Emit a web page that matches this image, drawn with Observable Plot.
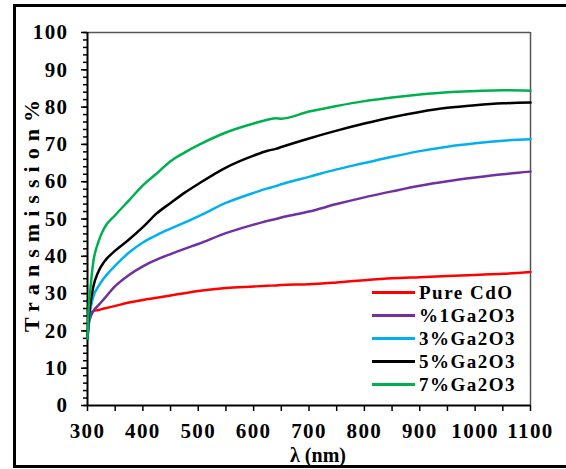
<!DOCTYPE html>
<html>
<head>
<meta charset="utf-8">
<script src="https://cdn.jsdelivr.net/npm/d3@7"></script>
<script src="https://cdn.jsdelivr.net/npm/@observablehq/plot@0.6"></script>
<style>
  html, body { margin: 0; padding: 0; background: #fff; overflow: hidden; }
  #wrap { position: relative; width: 566px; height: 469px; }
  #border { position: absolute; left: 13px; top: 4px; width: 600px; height: 458px; border: 3px solid #000; pointer-events: none; }
  #legend { position: absolute; left: 372px; top: 281px; font-family: "Liberation Serif", serif; font-weight: bold; font-size: 19px; letter-spacing: 1.5px; color: #000; }
  .row { display: flex; align-items: center; height: 23px; white-space: nowrap; }
  .sw { width: 43px; height: 3px; margin-right: 4px; }
</style>
</head>
<body>
<div id="wrap">
  <div id="chart"></div>
  <div id="legend"></div>
  <div id="border"></div>
</div>
<script>
// Optical transmission spectra of CdO films doped with Ga2O3
const wavelength = [300, 302, 305, 310, 320, 330, 350, 375, 400, 425, 450, 475, 500, 550, 600, 625, 640, 650, 700, 750, 800, 850, 900, 950, 1000, 1050, 1100];

const pureCdO  = [18, 22, 24.5, 25.3, 25.6, 26, 26.7, 27.6, 28.3, 28.9, 29.5, 30.1, 30.7, 31.5, 31.9, 32.1, 32.2, 32.3, 32.5, 33, 33.6, 34.1, 34.4, 34.7, 35, 35.3, 35.8];
const ga1      = [18, 21.5, 23.5, 25.2, 26.9, 28.6, 32, 35, 37.3, 39.1, 40.6, 42, 43.3, 46.2, 48.5, 49.5, 50, 50.4, 52, 54, 55.8, 57.4, 58.9, 60.1, 61.1, 62, 62.7];
const ga3      = [18, 22, 25.5, 29, 32, 34.2, 37.5, 41, 43.7, 45.7, 47.4, 49, 50.7, 54.3, 57, 58.2, 58.8, 59.3, 61.3, 63.3, 65, 66.7, 68.2, 69.4, 70.3, 71, 71.4];
const ga5      = [18, 23, 27, 31.5, 36, 38.5, 41.5, 44.5, 47.8, 51.5, 54.3, 57, 59.4, 63.8, 67, 68.3, 68.8, 69.3, 71.6, 73.7, 75.6, 77.3, 78.7, 79.8, 80.5, 81, 81.2];
const ga7      = [18, 26, 31, 38, 44, 47.5, 51, 55, 59, 62.2, 65.5, 67.8, 69.8, 73.2, 75.6, 76.6, 77, 76.9, 78.8, 80.3, 81.6, 82.6, 83.4, 84, 84.3, 84.5, 84.4];

const seriesNames  = ["Pure CdO", "%1Ga2O3", "3%Ga2O3", "5%Ga2O3", "7%Ga2O3"];
const seriesValues = [pureCdO, ga1, ga3, ga5, ga7];
const seriesColors = ["#ff0000", "#7030a0", "#00b0f0", "#000000", "#00b050"];

const xTickValues = d3.range(300, 1101, 50);
const yMajorTicks = d3.range(0, 101, 10);
const yMinorTicks = d3.range(0, 101, 2);
const xTitle = "λ (nm)";
const yTitle = "Transmission%";

const rows = seriesNames.flatMap((name, i) =>
  wavelength.map((w, j) => ({series: name, wavelength: w, value: seriesValues[i][j]}))
);

const chart = Plot.plot({
  width: 566,
  height: 469,
  marginLeft: 87,
  marginRight: 36,
  marginTop: 32,
  marginBottom: 64,
  x: {domain: [300, 1100]},
  y: {domain: [0, 100]},
  color: {domain: seriesNames, range: seriesColors},
  style: {fontFamily: "'Liberation Serif', serif", fontWeight: "bold", background: "transparent", color: "#000"},
  marks: [
    Plot.axisY(yMinorTicks, {tickSize: 4, strokeWidth: 1.5, tickFormat: () => "", label: null}),
    Plot.axisY(yMajorTicks, {tickSize: 6, strokeWidth: 1.5, tickPadding: 13, fontSize: 21, label: null}),
    Plot.axisX(xTickValues, {tickSize: 6, strokeWidth: 1.5, tickPadding: 12, fontSize: 21,
      tickFormat: d => d % 100 === 0 ? String(d) : "", label: null}),
    Plot.ruleY([100], {stroke: "#555", strokeWidth: 1.5}),
    Plot.ruleX([1100], {stroke: "#555", strokeWidth: 1.5}),
    Plot.ruleX([300], {stroke: "#000", strokeWidth: 2}),
    Plot.ruleY([0], {stroke: "#000", strokeWidth: 2}),
    Plot.line(rows, {x: "wavelength", y: "value", z: "series", stroke: "series", strokeWidth: 2.5, curve: "monotone-x"}),
    // rotated title, anchored at its first letter near the bottom of the frame
    Plot.text([yTitle], {frameAnchor: "left", rotate: -90, textAnchor: "start", dx: -56, dy: 113, fontSize: 22, fill: "#000"}),
    Plot.text([xTitle], {frameAnchor: "bottom", dy: 56, dx: 9, fontSize: 20, fill: "#000"})
  ]
});

// Spread the glyphs a little, as in the original typesetting
d3.select(chart).selectAll("text").each(function() {
  const t = this.textContent;
  if (t === yTitle) {
    this.setAttribute("textLength", 232);
    this.setAttribute("lengthAdjust", "spacing");
  } else if (t !== xTitle) {
    this.style.letterSpacing = "1.4px";
  }
});

document.getElementById("chart").appendChild(chart);

// Legend rows: colour swatch followed by the series name
const legend = d3.select("#legend");
seriesNames.forEach((name, i) => {
  const row = legend.append("div").attr("class", "row");
  row.append("div").attr("class", "sw").style("background", seriesColors[i]);
  row.append("span").text(name);
});
</script>
</body>
</html>
